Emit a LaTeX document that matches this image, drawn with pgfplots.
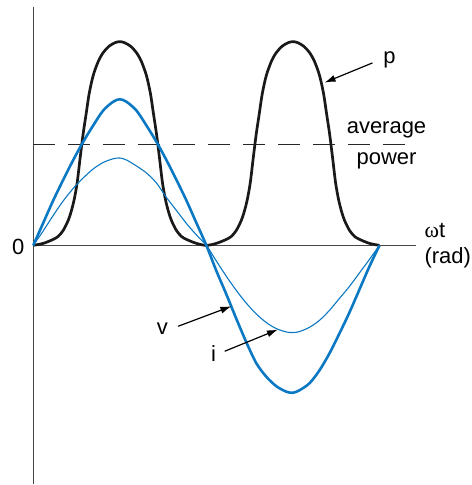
\documentclass[border=0pt]{standalone}
\usepackage{fontspec}
\setmainfont{Liberation Sans}
\newfontfamily\greekserif{Liberation Serif}
\usepackage{pgfplots}
\usepackage{pgfplotstable}
\pgfplotsset{compat=1.18}
\usetikzlibrary{arrows.meta}

\definecolor{wave}{RGB}{10,120,195}
\definecolor{axisgray}{RGB}{70,70,70}

% instantaneous power p (two humps per cycle), x = omega t in degrees
\pgfplotstableread{
x y
0 0
10.38 2
20.77 6
25.96 9
31.15 15
36.34 25
39.46 34
42.57 46
45.69 63
48.80 88
51.92 112
55.04 132
58.15 152
62.30 170
67.50 184
72.69 193
78.92 199.5
85.15 203
90 204
94.85 203
101.08 199.5
107.31 193
112.50 184
117.70 170
121.85 152
124.96 132
128.08 112
131.20 88
134.31 63
137.43 46
140.54 34
143.66 25
148.85 15
154.04 9
159.23 6
169.62 2
180 0
190.38 2
200.77 6
205.96 9
211.15 15
216.34 25
219.46 34
222.57 46
225.69 63
228.80 88
231.92 112
235.04 132
238.15 152
242.30 170
247.50 184
252.69 193
258.92 199.5
265.15 203
270 204
274.85 203
281.08 199.5
287.31 193
292.50 184
297.70 170
301.85 152
304.96 132
308.08 112
311.20 88
314.31 63
317.43 46
320.54 34
323.66 25
328.85 15
334.04 9
339.23 6
349.62 2
360 0
}\powertab

% voltage v
\pgfplotstableread{
x y
0 0
10.38 22.5
20.77 45
31.15 65.6
41.54 85.4
51.92 103.7
62.30 120
72.69 135
83.07 143.8
90 146.3
96.93 143.8
107.31 135
117.70 120
128.08 103.7
138.46 85.4
148.85 65.6
159.23 45
169.62 22.5
180 0
190.38 -25.5
200.77 -49
211.15 -73.5
221.54 -97
231.92 -118
242.30 -131.5
252.69 -141
263.07 -146.5
270 -147.6
276.93 -145
287.31 -138
297.70 -125
308.08 -108
318.46 -88
328.85 -67
339.23 -44
349.62 -21
360 0
}\voltab

% current i
\pgfplotstableread{
x y
0 0
10.38 14.5
20.77 30
31.15 44.5
41.54 57
51.92 67.5
62.30 76.5
72.69 83
83.07 86.7
90 87.5
96.93 85.5
107.31 79.5
117.70 72.5
128.08 62.5
138.46 48
148.85 35
159.23 22
169.62 10.5
180 0
190.38 -15.7
200.77 -31
211.15 -45.2
221.54 -57.9
231.92 -68.7
242.30 -77.3
252.69 -83.3
263.07 -86.7
270 -87.3
276.93 -86.3
287.31 -82
297.70 -75
308.08 -65
318.46 -53
328.85 -41
339.23 -27.5
349.62 -14
360 0
}\curtab

\begin{document}
\begin{tikzpicture}[
  lbl/.style={font=\fontsize{22}{26}\selectfont, text=black, inner sep=0pt},
  pointer/.style={black, line width=1.2pt, -{Latex[length=11pt,width=7pt]}},
]
\begin{axis}[
  scale only axis,
  width=472pt, height=485pt,
  xmin=-34.58, xmax=455.54,
  ymin=-239.3, ymax=245.7,
  axis line style={draw=none},
  xtick=\empty, ytick=\empty,
  clip=false,
]
\path (rel axis cs:0,0) rectangle (rel axis cs:1,1);

% axes through the origin
\draw[axisgray, line width=1.3pt] (axis cs:0,238.7) -- (axis cs:0,-239.3);
\draw[axisgray, line width=1.3pt] (axis cs:0,0) -- (axis cs:398.4,0);

% average power level
\addplot[black!85, line width=1.2pt, dash pattern=on 22pt off 13pt]
  coordinates {(0,101) (398.4,101)};

\addplot[black!90, line width=2.7pt, smooth] table {\powertab};
\addplot[wave, line width=2.6pt, smooth] table {\voltab};
\addplot[wave, line width=1.1pt, smooth] table {\curtab};

% labels
\node[lbl, anchor=center] at (axis cs:-15.6,-1.8) {0};
\node[lbl, anchor=base west] at (axis cs:406.7,7.7) {{\greekserif ω}t};
\node[lbl, anchor=base west] at (axis cs:406.7,-18.3) {(rad)};
\node[lbl, anchor=base] at (axis cs:367.3,112.2) {average};
\node[lbl, anchor=base] at (axis cs:367.3,80.7) {power};
\node[lbl, anchor=base] at (axis cs:370.4,181.7) {p};
\node[lbl, anchor=base] at (axis cs:134.2,-89.3) {v};
\node[lbl, anchor=base] at (axis cs:187.6,-116) {i};

% pointers
\draw[pointer] (axis cs:352.7,182.7) -- (axis cs:302.9,163);
\draw[pointer] (axis cs:150.6,-81) -- (axis cs:206.0,-61);
\draw[pointer] (axis cs:199.1,-106) -- (axis cs:254.4,-84.3);
\end{axis}
\end{tikzpicture}
\end{document}
